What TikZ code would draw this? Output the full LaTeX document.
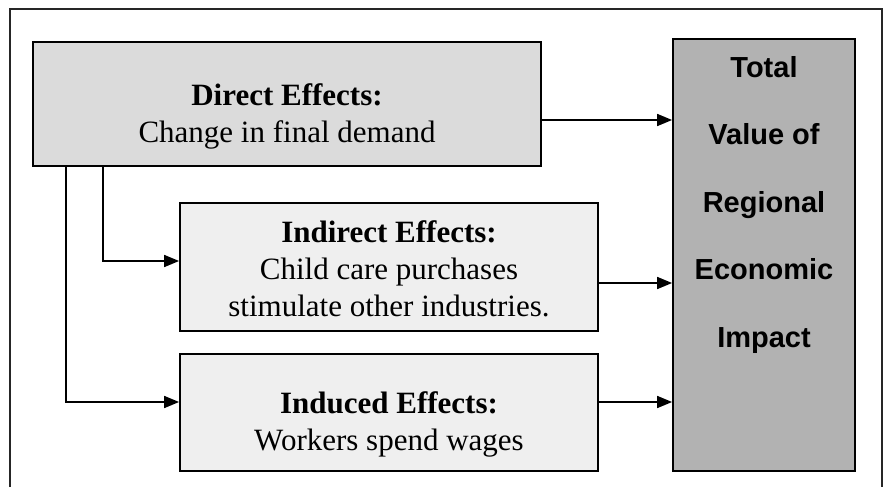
\documentclass[tikz,border=0pt]{standalone}
\usepackage{fontspec}
\setmainfont{Liberation Serif}
\newfontfamily\impactfont{Liberation Sans}
\usepackage{xcolor}
\usetikzlibrary{arrows.meta,calc}

\definecolor{directfill}{gray}{0.86}
\definecolor{effectfill}{gray}{0.937}
\definecolor{totalfill}{gray}{0.70}

\tikzset{
  effbox/.style={draw, line width=1.8pt, fill=#1, inner sep=0pt},
  efftext/.style={align=center, inner sep=0pt, font=\fontsize{31}{37}\selectfont},
  flow/.style={->, line width=1.7pt},
}

\begin{document}
\begin{tikzpicture}[>={Triangle[length=15pt,width=12pt]}, x=1pt, y=-1pt]
  \useasboundingbox (0,0) rectangle (888,487);
  \draw[line width=1.5pt, black!85] (10,487) |- (882,9) -- (882,487);

  \node[effbox=directfill, minimum width=508, minimum height=124] (direct) at (287,104) {};
  \node[effbox=effectfill, minimum width=418, minimum height=128] (indirect) at (389,267) {};
  \node[effbox=effectfill, minimum width=418, minimum height=117] (induced) at (389,412.5) {};
  \node[effbox=totalfill, minimum width=182, minimum height=432] (total) at (764,255) {};

  \node[efftext] (directtxt) at ([yshift=-12.8pt]direct.center)
    {\textbf{Direct Effects:}\\Change in final demand};
  \node[efftext] (indirecttxt) at ([yshift=-2pt]indirect.center)
    {\textbf{Indirect Effects:}\\Child care purchases\\stimulate other industries.};
  \node[efftext] (inducedtxt) at ([yshift=-11.5pt]induced.center)
    {\textbf{Induced Effects:}\\Workers spend wages};
  \node[align=center, inner sep=0pt, font=\impactfont\bfseries\fontsize{29}{67.5}\selectfont]
    (totaltxt) at ([yshift=50.5pt]total.center) {Total\\Value of\\Regional\\Economic\\Impact};

  \coordinate (d2t) at ([yshift=-16pt]direct.east);
  \coordinate (i2t) at ([yshift=-16pt]indirect.east);
  \coordinate (n2t) at ([yshift=10.5pt]induced.east);
  \draw[flow] (d2t) -- (d2t -| total.west);
  \draw[flow] (i2t) -- (i2t -| total.west);
  \draw[flow] (n2t) -- (n2t -| total.west);
  \draw[flow] ([xshift=71pt]direct.south west) |- ([yshift=6pt]indirect.west);
  \draw[flow] ([xshift=34pt]direct.south west) |- ([yshift=10.5pt]induced.west);
\end{tikzpicture}
\end{document}
